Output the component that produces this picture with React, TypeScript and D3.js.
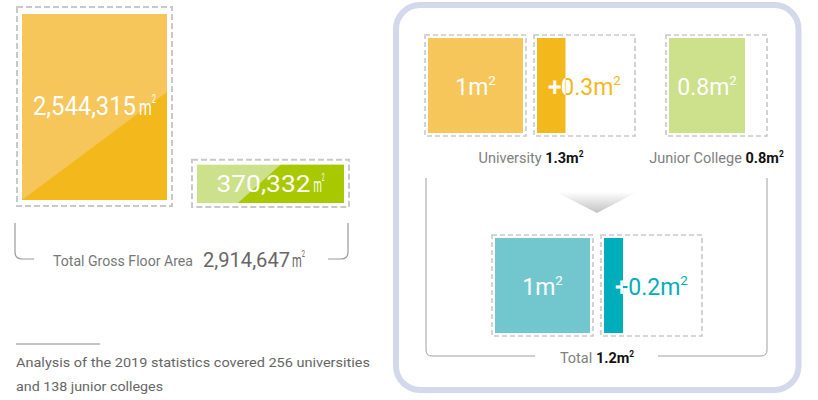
import React from "react";
import * as d3 from "d3";

// ---------- data ----------
const floorCategories = ["University", "Junior College"];
const floorAreas = [2544315, 370332];
const floorTotalLabel = "Total Gross Floor Area";
const floorTotal = 2914647;

const perStudentCategories = ["University", "Junior College"];
const perStudentBase = [1, 0.8];
const perStudentExtra = [0.3, 0];
const perStudentTotals = [1.3, 0.8];

const combinedLabel = "Total";
const combinedBase = 1;
const combinedExtra = 0.2;
const combinedTotal = 1.2;

const footnoteLines = [
  "Analysis of the 2019 statistics covered 256 universities",
  "and 138 junior colleges",
];

// ---------- styles ----------
const FONT = "Roboto, 'Noto Sans', sans-serif";
const DASH = "#c9c9c9";
const uniLight = "#F6C65A";
const uniDark = "#F3B81B";
const jcLight = "#CDE08B";
const jcDark = "#A8C800";
const teaLight = "#72C7CE";
const teaDark = "#00AEBB";

const fmt = d3.format(",");

// left big bars layout (styling)
const leftBars = [
  { x: 22, w: 145, bottom: 200, pad: 6, light: uniLight, dark: uniDark, off: 0, slope: 0.745, fs: 26, dw: 103, uw: 17 },
  { x: 197, w: 147, bottom: 203, pad: 4, light: jcLight, dark: jcDark, off: 41, slope: 0.9, fs: 24, dw: 94, uw: 11 },
];

const heightScale = d3
  .scalePow()
  .exponent(0.82)
  .domain([0, d3.max(floorAreas) as number])
  .range([0, 186]);

const unitScale = d3.scaleLinear().domain([0, 1]).range([0, 95]);

function Sup({ v, color, fs, bold }: { v: string; color: string; fs: number; bold?: boolean }) {
  const fw = bold ? 700 : 400;
  return (
    <>
      <tspan fill={color} fontWeight={fw}>{v}m</tspan>
      <tspan fill={color} fontSize={fs * 0.58} dy={-fs * 0.42} fontWeight={fw}>2</tspan>
    </>
  );
}

// compact square-metre sign (㎡ look) drawn as text
function SqM({ x, y, fs, w, color }: { x: number; y: number; fs: number; w: number; color: string }) {
  return (
    <text x={x} y={y} fill={color} fontFamily={FONT} fontSize={fs * 0.88} textLength={w} lengthAdjust="spacingAndGlyphs">
      <tspan>m</tspan>
      <tspan fontSize={fs * 0.46} dy={-fs * 0.46}>2</tspan>
    </text>
  );
}

function UnitBox({
  id, x, y, value, color, label, labelColor, halo,
}: {
  id: string; x: number; y: number; value: number; color: string; label: string; labelColor: string; halo?: boolean;
}) {
  const full = unitScale(1);
  const w = unitScale(value);
  const fs = 23;
  const cx = halo ? x + full / 2 : x + w / 2;
  const by = y + full / 2 + 9;
  return (
    <g>
      <rect x={x - 3} y={y - 3} width={full + 6} height={full + 6} fill="none" stroke={DASH} strokeWidth={1.6} strokeDasharray="5 3" />
      <rect x={x} y={y} width={w} height={full} fill={color} />
      <clipPath id={id}>
        <rect x={x} y={y} width={w} height={full} />
      </clipPath>
      <text x={cx} y={by} textAnchor="middle" fontFamily={FONT} fontSize={fs}>
        <Sup v={label} color={labelColor} fs={fs} />
      </text>
      {halo && (
        <text x={cx} y={by} textAnchor="middle" fontFamily={FONT} fontSize={fs} clipPath={`url(#${id})`} stroke="#fff" strokeWidth={0.8}>
          <Sup v={label} color="#fff" fs={fs} />
        </text>
      )}
    </g>
  );
}

export default function App() {
  return (
    <svg
      width={818}
      height={400}
      viewBox="0 0 818 400"
      style={{ position: "absolute", left: 0, top: 0, background: "#fff" }}
    >
      <defs>
        <linearGradient id="arrowGrad" x1="0" y1="0" x2="0" y2="1">
          <stop offset="0" stopColor="#ffffff" />
          <stop offset="1" stopColor="#c2c2c2" />
        </linearGradient>
      </defs>

      {/* ---------- left: gross floor area ---------- */}
      {floorAreas.map((v, i) => {
        const b = leftBars[i];
        const h = heightScale(v);
        const top = b.bottom - h;
        const L = 400;
        const cx = b.x + b.w / 2;
        const cy = top + h / 2;
        const start = cx - (b.dw + b.uw + 3) / 2;
        return (
          <g key={floorCategories[i]}>
            <rect x={b.x - 5} y={top - b.pad - 1} width={b.w + 10} height={h + b.pad * 2 + 1} fill="none" stroke={DASH} strokeWidth={2} strokeDasharray="6 3" />
            <clipPath id={`lb${i}`}>
              <rect x={b.x} y={top} width={b.w} height={h} />
            </clipPath>
            <rect x={b.x} y={top} width={b.w} height={h} fill={b.light} />
            <path
              d={`M${b.x + b.off},${b.bottom} L${b.x + b.off + L},${b.bottom} L${b.x + b.off + L},${b.bottom - b.slope * L} Z`}
              fill={b.dark}
              clipPath={`url(#lb${i})`}
            />
            <text x={start} y={cy + 8} fill="#fff" fontFamily={FONT} fontSize={b.fs} textLength={b.dw} lengthAdjust="spacingAndGlyphs">
              {fmt(v)}
            </text>
            <SqM x={start + b.dw + 3} y={cy + 8} fs={b.fs} w={b.uw} color="#fff" />
          </g>
        );
      })}

      {/* bracket */}
      <path d="M15,223 V252 Q15,259 22,259 H34" fill="none" stroke="#9a9a9a" strokeWidth={1.2} />
      <path d="M328,259 H341 Q348,259 348,252 V223" fill="none" stroke="#9a9a9a" strokeWidth={1.2} />
      <text x={53} y={266} fill="#777" fontFamily={FONT} fontSize={15} textLength={140} lengthAdjust="spacingAndGlyphs">
        {floorTotalLabel}
      </text>
      <text x={203} y={267} fill="#666" fontFamily={FONT} fontSize={21} textLength={87} lengthAdjust="spacingAndGlyphs">
        {fmt(floorTotal)}
      </text>
      <SqM x={292} y={267} fs={21} w={13} color="#666" />

      {/* footnote */}
      <line x1={16} x2={100} y1={344} y2={344} stroke="#888" strokeWidth={1} />
      {footnoteLines.map((t, i) => (
        <text key={i} x={16} y={367 + i * 24} fill="#666" fontFamily={FONT} fontSize={13.5} textLength={i === 0 ? 354 : 147} lengthAdjust="spacingAndGlyphs">
          {t}
        </text>
      ))}

      {/* ---------- right panel ---------- */}
      <rect x={396} y={5} width={402.5} height={385} rx={24} fill="#fff" stroke="#D3D9EB" strokeWidth={6} />

      {/* university */}
      <UnitBox id="u0" x={428} y={38} value={perStudentBase[0]} color={uniLight} label={String(perStudentBase[0])} labelColor="#fff" />
      <UnitBox id="u1" x={537} y={38} value={perStudentExtra[0]} color={uniDark} label={`+${perStudentExtra[0]}`} labelColor={uniDark} halo />
      {/* junior college */}
      <UnitBox id="j0" x={669} y={38} value={perStudentBase[1]} color={jcLight} label={String(perStudentBase[1])} labelColor="#fff" />

      <text x={531} y={163} textAnchor="middle" fontFamily={FONT} fontSize={14.5}>
        <tspan fill="#808080">{perStudentCategories[0]} </tspan>
        <Sup v={String(perStudentTotals[0])} color="#111" fs={14.5} bold />
      </text>
      <text x={716.5} y={163} textAnchor="middle" fontFamily={FONT} fontSize={14.5}>
        <tspan fill="#808080">{perStudentCategories[1]} </tspan>
        <Sup v={String(perStudentTotals[1])} color="#111" fs={14.5} bold />
      </text>

      {/* inner bracket */}
      <path d="M426,178 V350 Q426,356 432,356 H535" fill="none" stroke="#a0a0a0" strokeWidth={1} />
      <path d="M658,356 H761 Q767,356 767,350 V178" fill="none" stroke="#a0a0a0" strokeWidth={1} />

      {/* arrow */}
      <path d="M556,192 L637,192 L597,213 Z" fill="url(#arrowGrad)" />

      {/* combined */}
      <UnitBox id="t0" x={495} y={238} value={combinedBase} color={teaLight} label={String(combinedBase)} labelColor="#fff" />
      <UnitBox id="t1" x={604} y={238} value={combinedExtra} color={teaDark} label={`+${combinedExtra}`} labelColor={teaDark} halo />

      <text x={597} y={363} textAnchor="middle" fontFamily={FONT} fontSize={14.5}>
        <tspan fill="#808080">{combinedLabel} </tspan>
        <Sup v={String(combinedTotal)} color="#111" fs={14.5} bold />
      </text>
    </svg>
  );
}
